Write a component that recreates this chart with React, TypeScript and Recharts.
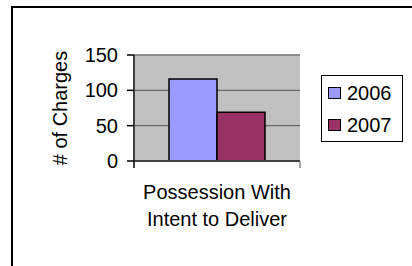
import React from 'react';
import { BarChart, Bar, XAxis, YAxis, CartesianGrid, Legend, ReferenceLine } from 'recharts';

const categories = ['Possession With\nIntent to Deliver'];
const series2006 = [116];
const series2007 = [69];
const seriesNames = ['2006', '2007'];
const seriesColors = ['#9999FF', '#993366'];
const yTicks = [0, 50, 100, 150];
const yLabel = '# of Charges';

const data = categories.map((c, i) => ({ category: c, s2006: series2006[i], s2007: series2007[i] }));

const FONT = '"Liberation Sans", Arial, sans-serif';

function XTick(props: any) {
  const { x, y, payload } = props;
  const lines = String(payload.value).split('\n');
  const off = payload && typeof payload.offset === 'number' ? payload.offset : 0;
  return (
    <g>
      {off ? (
        <>
          <line x1={x - off} x2={x - off} y1={y} y2={y + 7} stroke="#000" strokeWidth={1.5} />
          <line x1={x + off} x2={x + off} y1={y} y2={y + 7} stroke="#888" strokeWidth={1.5} />
        </>
      ) : null}
      <text x={x} y={y + 38} textAnchor="middle" fontSize={20} fill="#000" fontFamily={FONT}>
        {lines.map((l, i) => (
          <tspan key={i} x={x} dy={i === 0 ? 0 : 27}>
            {l}
          </tspan>
        ))}
      </text>
    </g>
  );
}

function LegendBox() {
  return (
    <div
      style={{
        width: 82,
        height: 67,
        border: '1px solid #000',
        boxSizing: 'border-box',
        background: '#fff',
        fontFamily: FONT,
        fontSize: 20,
        position: 'relative',
        color: '#000',
      }}
    >
      {seriesNames.map((n, i) => (
        <div
          key={n}
          style={{
            position: 'absolute',
            left: 6,
            top: 6 + i * 32,
            display: 'flex',
            alignItems: 'center',
            height: 22,
            lineHeight: '22px',
          }}
        >
          <span
            style={{
              display: 'inline-block',
              width: 11,
              height: 10,
              border: '1px solid #000',
              background: seriesColors[i],
              marginRight: 6,
            }}
          />
          <span>{n}</span>
        </div>
      ))}
    </div>
  );
}

export default function App() {
  return (
    <div style={{ position: 'absolute', left: 0, top: 0, width: 412, height: 266, background: '#fff', overflow: 'hidden' }}>
      <div
        style={{
          position: 'absolute',
          left: 11,
          top: 6,
          width: 420,
          height: 280,
          borderTop: '2px solid #000',
          borderLeft: '2px solid #000',
        }}
      />
      <div style={{ position: 'absolute', left: 0, top: 0 }}>
        <BarChart
          width={412}
          height={266}
          data={data}
          margin={{ top: 55, right: 112, bottom: 0, left: 0 }}
          barCategoryGap={35}
          barGap={0}
        >
          <CartesianGrid yAxisId="left" fill="#C0C0C0" vertical={false} stroke="#555" strokeWidth={1} />
          <XAxis
            dataKey="category"
            height={105}
            tick={<XTick />}
            tickLine={false}
            tickSize={0}
            tickMargin={0}
            axisLine={{ stroke: '#404040', strokeWidth: 2 }}
            interval={0}
          />
          <YAxis
            yAxisId="left"
            width={134}
            domain={[0, 150]}
            ticks={yTicks}
            tickSize={7}
            tickMargin={9}
            tick={{ fontSize: 20, fill: '#000', fontFamily: FONT }}
            tickLine={{ stroke: '#000', strokeWidth: 1.5 }}
            axisLine={{ stroke: '#404040', strokeWidth: 2 }}
            label={{
              value: yLabel,
              angle: -90,
              position: 'center',
              dx: -7,
              style: { fontSize: 20, fill: '#000', fontFamily: FONT },
            }}
          />
          <YAxis
            yAxisId="right"
            orientation="right"
            width={0}
            domain={[0, 150]}
            ticks={yTicks}
            tick={false}
            tickLine={false}
            axisLine={{ stroke: '#888', strokeWidth: 2 }}
          />
          <ReferenceLine yAxisId="left" y={150} stroke="#888" strokeWidth={1.5} />
          <Bar yAxisId="left" dataKey="s2006" name={seriesNames[0]} fill={seriesColors[0]} stroke="#000" strokeWidth={1.5} isAnimationActive={false} />
          <Bar yAxisId="left" dataKey="s2007" name={seriesNames[1]} fill={seriesColors[1]} stroke="#000" strokeWidth={1.5} isAnimationActive={false} />
          <Legend
            layout="vertical"
            align="center"
            verticalAlign="middle"
            content={() => <LegendBox />}
            wrapperStyle={{ left: 321, top: 75, width: 82, height: 67 }}
          />
        </BarChart>
      </div>
    </div>
  );
}
